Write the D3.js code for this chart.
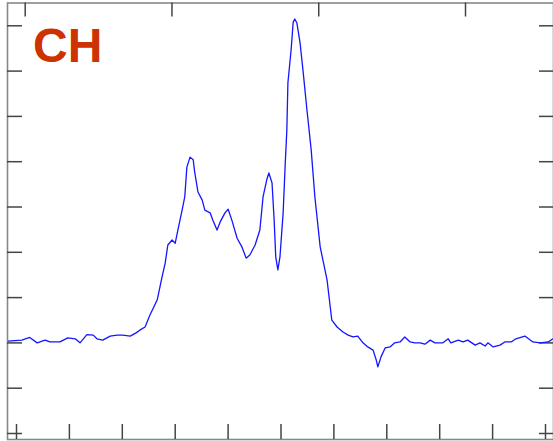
<!DOCTYPE html>
<html lang="en">
<head>
<meta charset="UTF-8">
<title>CH trace</title>
<script src="https://d3js.org/d3.v7.min.js"></script>
<style>
  body { margin: 0; padding: 0; background: #fff; }
  svg { display: block; }
  .axis line { stroke: #444; stroke-width: 1.5; }
  .axis path { display: none; }
  .axis text { display: none; }
</style>
</head>
<body>
<div id="chart"></div>
<script>
// trace values (x in bottom-axis units, y in left-axis units)
const xVals = [-0.15, 0.11, 0.26, 0.40, 0.55, 0.64, 0.83, 0.98, 1.12, 1.21, 1.34, 1.46, 1.53, 1.64, 1.78, 1.91,
  2.02, 2.16, 2.27, 2.34, 2.44, 2.53, 2.67, 2.76, 2.82, 2.87, 2.95, 3.01, 3.06, 3.14, 3.19, 3.23, 3.29, 3.35,
  3.38, 3.44, 3.52, 3.57, 3.67, 3.72, 3.80, 3.86, 3.95, 4.01, 4.08, 4.18, 4.27, 4.35, 4.42, 4.52, 4.61, 4.67,
  4.74, 4.78, 4.84, 4.88, 4.91, 4.95, 4.99, 5.05, 5.09, 5.12, 5.14, 5.20, 5.24, 5.27, 5.31, 5.37, 5.43, 5.50,
  5.58, 5.65, 5.75, 5.88, 5.97, 6.07, 6.18, 6.28, 6.37, 6.46, 6.56, 6.65, 6.75, 6.81, 6.84, 6.90, 6.98, 7.07,
  7.16, 7.26, 7.35, 7.45, 7.54, 7.64, 7.73, 7.83, 7.92, 8.07, 8.17, 8.22, 8.36, 8.45, 8.54, 8.68, 8.77, 8.87,
  8.92, 9.02, 9.15, 9.24, 9.36, 9.45, 9.62, 9.77, 9.91, 10.06, 10.15];
const yVals = [2.03, 2.05, 2.11, 1.99, 2.05, 2.01, 2.01, 2.10, 2.08, 1.99, 2.17, 2.16, 2.08, 2.05, 2.14, 2.16,
  2.16, 2.14, 2.21, 2.27, 2.34, 2.60, 2.94, 3.44, 3.75, 4.15, 4.26, 4.19, 4.48, 4.92, 5.21, 5.87, 6.09, 6.03,
  5.74, 5.32, 5.14, 4.92, 4.86, 4.70, 4.48, 4.66, 4.86, 4.94, 4.70, 4.30, 4.11, 3.86, 3.93, 4.15, 4.48, 5.21,
  5.59, 5.74, 5.52, 4.70, 3.89, 3.60, 3.89, 4.86, 5.96, 6.69, 7.73, 8.45, 9.07, 9.14, 9.05, 8.61, 7.95, 7.13,
  6.25, 5.21, 4.11, 3.38, 2.49, 2.34, 2.23, 2.16, 2.12, 2.14, 1.99, 1.90, 1.83, 1.61, 1.46, 1.68, 1.88, 1.90,
  1.99, 2.01, 2.12, 2.01, 1.99, 1.99, 1.96, 2.05, 1.99, 1.99, 2.08, 1.99, 2.05, 2.01, 2.05, 1.94, 1.99, 1.92,
  1.99, 1.90, 1.94, 2.01, 2.01, 2.08, 2.14, 2.01, 1.99, 2.01, 2.08];

const xTicks = [0, 1, 2, 3, 4, 5, 6, 7, 8, 9, 10];
const yTicks = [0, 1, 2, 3, 4, 5, 6, 7, 8, 9];
const topTicks = [0, 1, 2, 3];
const label = 'CH';

const width = 553, height = 441;
const frame = { left: 7.5, right: 553.5, top: 3, bottom: 439.5 };

const svg = d3.select('#chart').append('svg')
  .attr('width', width)
  .attr('height', height);

const x = d3.scaleLinear().domain([0, 10]).range([16, 545]);
const y = d3.scaleLinear().domain([0, 9]).range([433, 25.3]);
const xTop = d3.scaleLinear().domain([0, 3]).range([24.7, 465]);

// frame
svg.append('rect')
  .attr('x', frame.left)
  .attr('y', frame.top)
  .attr('width', frame.right - frame.left)
  .attr('height', frame.bottom - frame.top)
  .attr('fill', 'none')
  .attr('stroke', '#888')
  .attr('stroke-width', 1.6);

// inward ticks on all four sides
svg.append('g').attr('class', 'axis')
  .attr('transform', `translate(0,${frame.bottom - 0.5})`)
  .call(d3.axisBottom(x).tickValues(xTicks).tickSize(-15).tickFormat(''));

svg.append('g').attr('class', 'axis')
  .attr('transform', `translate(0,${frame.top - 0.5})`)
  .call(d3.axisTop(xTop).tickValues(topTicks).tickSize(-14).tickFormat(''));

svg.append('g').attr('class', 'axis')
  .attr('transform', `translate(${frame.left - 0.5},0)`)
  .call(d3.axisLeft(y).tickValues(yTicks).tickSize(-15).tickFormat(''));

svg.append('g').attr('class', 'axis')
  .attr('transform', `translate(${frame.right - 0.5},0)`)
  .call(d3.axisRight(y).tickValues(yTicks).tickSize(-14).tickFormat(''));

// trace
const data = xVals.map((v, i) => [v, yVals[i]]);
const line = d3.line().x(d => x(d[0])).y(d => y(d[1]));

svg.append('path')
  .datum(data)
  .attr('d', line)
  .attr('fill', 'none')
  .attr('stroke', '#1515ff')
  .attr('stroke-width', 1.3)
  .attr('stroke-linejoin', 'round');

svg.append('text')
  .attr('x', 33)
  .attr('y', 62)
  .attr('fill', '#cc3300')
  .style('font-family', '"Liberation Sans", Arial, sans-serif')
  .style('font-weight', 'bold')
  .style('font-size', '48px')
  .text(label);
</script>
</body>
</html>
